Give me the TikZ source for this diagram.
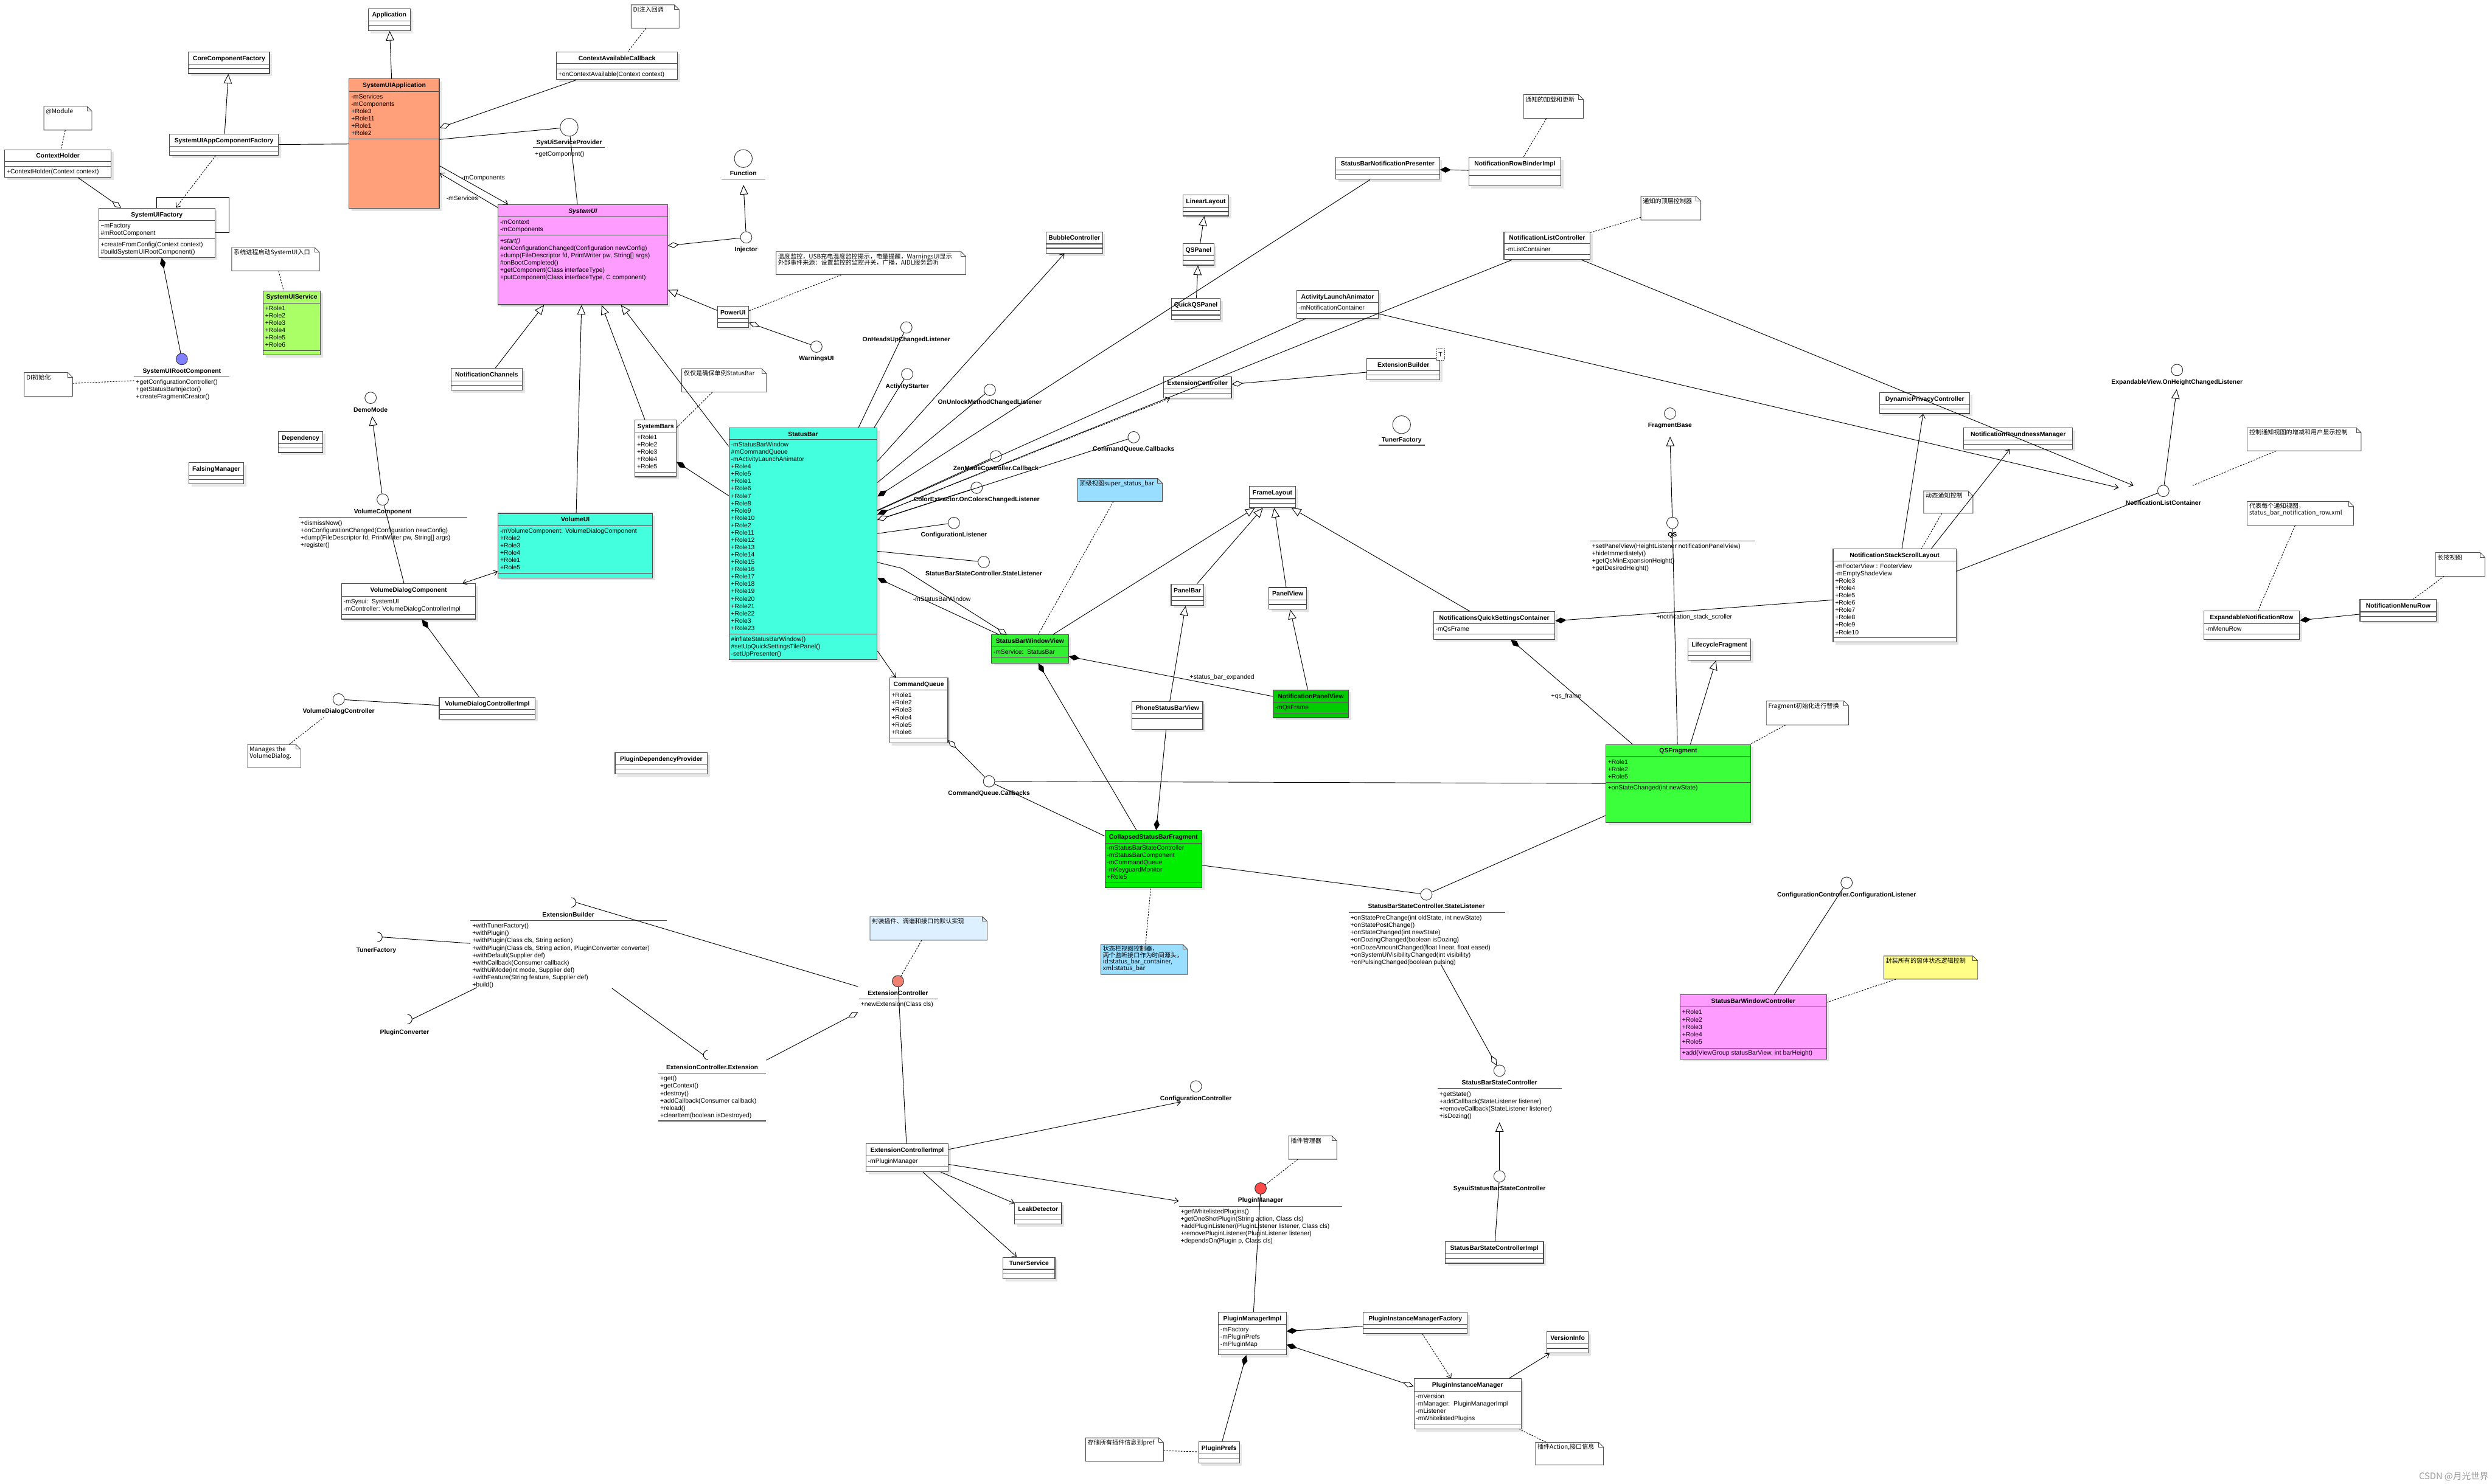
\documentclass[tikz,border=0pt]{standalone}
\usepackage{fontspec}
\setmainfont{Liberation Sans}
\newfontfamily\cjk{Noto Sans CJK SC}
\usetikzlibrary{arrows.meta,shadows}

\definecolor{salmonc}{HTML}{FFA07A}
\definecolor{pinkc}{HTML}{FF9CFF}
\definecolor{limec}{HTML}{AAFF66}
\definecolor{turq}{HTML}{44FFDD}
\definecolor{grn1}{HTML}{33EE33}
\definecolor{grn2}{HTML}{00EE00}
\definecolor{grn3}{HTML}{00CC00}
\definecolor{grn4}{HTML}{3CFF3C}
\definecolor{noteblue}{HTML}{99DDFF}
\definecolor{notepale}{HTML}{DDF0FF}
\definecolor{noteyel}{HTML}{FFFF88}
\definecolor{ifblue}{HTML}{8080FF}
\definecolor{ifsalmon}{HTML}{F08070}
\definecolor{ifred}{HTML}{FF4A4A}

\tikzset{
  clsbox/.style={draw=black!70, line width=1.2pt, inner sep=0pt,
    drop shadow={shadow xshift=1.6mm, shadow yshift=-1.6mm, fill=black!10, opacity=1}},
  sepline/.style={draw=black!70, line width=1.2pt},
  uline/.style={draw=black!70, line width=1.2pt},
  ttl/.style={anchor=base, inner sep=0pt, font=\fontsize{11.3}{13}\selectfont\bfseries},
  lbl/.style={anchor=base, inner sep=0pt, font=\fontsize{11.3}{13}\selectfont\bfseries},
  row/.style={anchor=base west, inner sep=0pt},
  nrow/.style={anchor=base west, inner sep=0pt, font=\cjk\fontsize{11}{13}\selectfont},
  elbl/.style={inner sep=0pt},
  ifc/.style={circle, draw=black!80, line width=1pt, fill=white, inner sep=0pt},
  notebox/.style={inner sep=0pt},
  noteline/.style={draw=black!70, line width=1pt},
  con/.style={line width=1pt},
  gen/.style={con, -{Triangle[length=6mm, width=5.2mm, fill=white]}},
  comp/.style={con, {Diamond[length=7mm, width=3.6mm]}-},
  aggr/.style={con, {Diamond[length=7mm, width=3.6mm, fill=white]}-},
  nav/.style={con, -{Straight Barb[length=2.4mm, width=3.6mm]}},
  dep/.style={nav, dash pattern=on 1mm off 0.8mm},
  anc/.style={con, dash pattern=on 1mm off 0.8mm},
}

% class box: name, x1, y1, x2, y2, fill, separators, title
\newcommand{\umlclass}[8]{%
  \node[clsbox, fill=#6, minimum width={(#4-#2)*1mm}, minimum height={(#5-#3)*1mm}]
    (#1) at ({(#2+#4)/2},{(#3+#5)/2}) {};
  \node[ttl] (#1-t) at ({(#2+#4)/2},{#3+5.3}) {#8};
  \foreach \sy in {#7} \draw[sepline] (#2,\sy) -- (#4,\sy);}
% note: name, x1, y1, x2, y2, fill
\newcommand{\umlnote}[6]{%
  \node[notebox, minimum width={(#4-#2)*1mm}, minimum height={(#5-#3)*1mm}]
    (#1) at ({(#2+#4)/2},{(#3+#5)/2}) {};
  \draw[noteline, fill=#6] (#2,#3) -- ({#4-3},#3) -- (#4,{#3+3}) -- (#4,#5) -- (#2,#5) -- cycle;
  \draw[noteline] ({#4-3},#3) -- ({#4-3},{#3+3}) -- (#4,{#3+3});}
% lollipop: name, x, y, radius, fill, label
\newcommand{\lolli}[6]{%
  \node[ifc, minimum size={2*#4*1mm}, fill=#5] (#1) at (#2,#3) {};
  \node[lbl] (#1-l) at (#2,{#3+#4+5.2}) {#6};}
% sockets: name, x, y, label x, label y, label
\newcommand{\sockR}[6]{%
  \draw[con] (#2,{#3-3}) arc[start angle=90, end angle=-90, radius=3mm];
  \coordinate (#1) at ({#2+3},#3);
  \node[lbl] (#1-l) at (#4,#5) {#6};}
\newcommand{\sockL}[6]{%
  \draw[con] (#2,{#3-3}) arc[start angle=90, end angle=270, radius=3mm];
  \coordinate (#1) at ({#2-3},#3);
  \node[lbl] (#1-l) at (#4,#5) {#6};}
% text rows
\newcommand{\rows}[4]{\foreach \rw [count=\i] in {#4} \node[row] (#1-\i) at (#2,{#3+(\i-1)*4.62}) {\rw};}
\newcommand{\nrows}[4]{\foreach \rw [count=\i] in {#4} \node[nrow] (#1-\i) at (#2,{#3+(\i-1)*4}) {\rw};}

\begin{document}
\begin{tikzpicture}[x=1mm, y=-1mm, font=\fontsize{11.3}{13}\selectfont]
\fill[white] (0,0) rectangle (1568,934);
\useasboundingbox (0,0) rectangle (1568,934);

% Application side
\umlclass{app}{231.7}{5.4}{258.1}{19.3}{white}{13.3,15.9}{Application}
\umlclass{sysapp}{219.7}{49.7}{276.4}{131.2}{salmonc}{57.6,87.4}{SystemUIApplication}
\rows{sysapp-a}{221}{62.2}{-mServices,-mComponents,+Role3,+Role11,+Role1,+Role2}
\umlclass{corefac}{118.6}{32.6}{169.6}{46.3}{white}{40.3,43.1}{CoreComponentFactory}
\umlclass{appfac}{106.6}{84.5}{175.2}{97.8}{white}{92,95}{SystemUIAppComponentFactory}
\umlclass{ctxholder}{3}{94.2}{69.9}{111.7}{white}{101.7,104.7}{ContextHolder}
\rows{ctxholder-o}{4.2}{109.3}{+ContextHolder(Context context)}
\umlclass{suifac}{62.1}{131}{135.2}{162}{white}{138.7,150.4}{SystemUIFactory}
\rows{suifac-a}{63.3}{143.4}{\textasciitilde mFactory,\#mRootComponent}
\rows{suifac-o}{63.3}{155.1}{+createFromConfig(Context context),\#buildSystemUIRootComponent()}
\draw[con] (suifac.north) -- ++(0,-6.4) -| ([xshift=8.8mm]suifac.east) -- (suifac.east);
\umlclass{suiservice}{165.6}{183}{201.6}{223.4}{limec}{190.8,220.8}{SystemUIService}
\rows{suiservice-a}{166.8}{195.3}{+Role1,+Role2,+Role3,+Role4,+Role5,+Role6}
\umlclass{dependency}{175.2}{271.5}{203.1}{284.8}{white}{279.2,281.9}{Dependency}
\umlclass{falsing}{118.9}{291.1}{153.3}{304.6}{white}{299,301.7}{FalsingManager}
\umlclass{notifch}{283.7}{231.9}{328.7}{245.6}{white}{239.8,242.5}{NotificationChannels}
\umlclass{sysui}{313.4}{128.8}{420}{191.8}{pinkc}{136.3,148.1}{\itshape SystemUI}
\rows{sysui-a}{314.6}{141}{-mContext,-mComponents}
\rows{sysui-o}{314.6}{152.8}{{\itshape +start()},\#onConfigurationChanged(Configuration newConfig),{+dump(FileDescriptor fd, PrintWriter pw, String[] args)},\#onBootCompleted(),+getComponent(Class interfaceType),{+putComponent(Class interfaceType, C component)}}
\umlclass{ctxcb}{350.1}{32.6}{426.3}{50.1}{white}{40.1,43.3}{ContextAvailableCallback}
\rows{ctxcb-o}{351.3}{48}{+onContextAvailable(Context context)}
\umlclass{powerui}{451.4}{192.8}{471}{206.3}{white}{200.4,203.1}{PowerUI}
\umlclass{systembars}{399.6}{264.3}{425.5}{300.1}{white}{271.9,297.3}{SystemBars}
\rows{systembars-a}{400.8}{276.4}{+Role1,+Role2,+Role3,+Role4,+Role5}
\umlclass{vollui}{313.4}{323.1}{410.7}{363.7}{turq}{330.9,360.9}{VolumeUI}
\rows{vollui-a}{314.6}{335.4}{-mVolumeComponent: VolumeDialogComponent,+Role2,+Role3,+Role4,+Role1,+Role5}
\umlclass{vdc}{214.9}{367.4}{299.3}{389.7}{white}{375.2,386.7}{VolumeDialogComponent}
\rows{vdc-a}{216.1}{380}{-mSysui:\ \ SystemUI,-mController: VolumeDialogControllerImpl}
\umlclass{vdci}{276.4}{439}{336.8}{452.5}{white}{446.7,449.6}{VolumeDialogControllerImpl}
\umlclass{plugdep}{387}{473.6}{445.1}{487.1}{white}{481.1,484}{PluginDependencyProvider}

% StatusBar group
\umlclass{statusbar}{458.7}{269.3}{551.9}{415.3}{turq}{276.6,399}{StatusBar}
\rows{statusbar-a}{459.9}{281.2}{-mStatusBarWindow,\#mCommandQueue,-mActivityLaunchAnimator,+Role4,+Role5,+Role1,+Role6,+Role7,+Role8,+Role9,+Role10,+Role2,+Role11,+Role12,+Role13,+Role14,+Role15,+Role16,+Role17,+Role18,+Role19,+Role20,+Role21,+Role22,+Role3,+Role23}
\rows{statusbar-o}{459.9}{403.8}{\#inflateStatusBarWindow(),\#setUpQuickSettingsTilePanel(),-setUpPresenter()}
\umlclass{bubble}{658.2}{145.9}{693.7}{159.4}{white}{153.5,156.2}{BubbleController}
\umlclass{linear}{744.4}{122.6}{773.1}{135.9}{white}{130.6,133.2}{LinearLayout}
\umlclass{qspanel}{744.4}{153.4}{763.8}{166.9}{white}{161.1,163.9}{QSPanel}
\umlclass{quickqs}{737.1}{187.8}{767.8}{201.3}{white}{195.5,198.3}{QuickQSPanel}
\umlclass{extctl}{732.1}{237.1}{774.8}{250.4}{white}{244.7,247.5}{ExtensionController}
\umlclass{cmdq}{559.7}{426.7}{596.4}{467.6}{white}{434.4,464.6}{CommandQueue}
\rows{cmdq-a}{560.9}{439}{+Role1,+Role2,+Role3,+Role4,+Role5,+Role6}
\umlclass{sbwv}{623.8}{399.6}{672.3}{417.3}{grn1}{407,413.7}{StatusBarWindowView}
\rows{sbwv-a}{625}{411.8}{-mService:\ \ StatusBar}
\umlclass{panelbar}{736.9}{367.6}{757.3}{381.2}{white}{375.2,378.1}{PanelBar}
\umlclass{psbv}{712.3}{441.6}{756.8}{459.1}{white}{449.1,452.3}{PhoneStatusBarView}
\umlclass{csbf}{695.2}{522.7}{756.2}{558.6}{grn2}{530.6,555.6}{CollapsedStatusBarFragment}
\rows{csbf-a}{696.4}{535}{-mStatusBarStateController,-mStatusBarComponent,-mCommandQueue,-mKeyguardMonitor,+Role5}
\umlclass{framelayout}{786.2}{306}{815.1}{319.5}{white}{313.9,316.7}{FrameLayout}
\umlclass{panelview}{798.5}{369.8}{822.1}{383.5}{white}{377.6,380.5}{PanelView}
\umlclass{npv}{801}{434.2}{848.5}{451.7}{grn3}{441.8,448.7}{NotificationPanelView}
\rows{npv-a}{802.2}{446.4}{-mQsFrame}
\umlclass{nqsc}{902}{384.9}{978.4}{402.4}{white}{392.5,399}{NotificationsQuickSettingsContainer}
\rows{nqsc-a}{903.2}{397.1}{-mQsFrame}
\umlclass{lifecycle}{1062.1}{402}{1101.6}{415.5}{white}{409.8,412.6}{LifecycleFragment}
\umlclass{qsf}{1010.4}{468.6}{1101.6}{517.9}{grn4}{476.1,492.6}{QSFragment}
\rows{qsf-a}{1011.6}{480.9}{+Role1,+Role2,+Role5}
\rows{qsf-o}{1011.6}{497.2}{+onStateChanged(int newState)}

% notifications
\umlclass{sbnp}{840.5}{99}{905.8}{112.9}{white}{106.9,109.8}{StatusBarNotificationPresenter}
\umlclass{nrbi}{924.2}{99}{982.2}{116.9}{white}{106.9,110.3}{NotificationRowBinderImpl}
\umlclass{nlctl}{946.3}{145.9}{1000.6}{163.4}{white}{153.4,160.2}{NotificationListController}
\rows{nlctl-a}{947.5}{158.1}{-mListContainer}
\umlclass{actanim}{815.8}{182.8}{867.4}{200.3}{white}{190.4,197.3}{ActivityLaunchAnimator}
\rows{actanim-a}{817}{195.1}{-mNotificationContainer}
\umlclass{extbuild}{860.1}{225.6}{906}{238.9}{white}{233.2,236}{ExtensionBuilder}
\node[draw=black!70, dash pattern=on 0.8mm off 0.5mm, fill=white, inner sep=0pt,
  minimum width=5mm, minimum height=7mm] (extbuild-T) at (906.3,223) {T};
\umlclass{dynpriv}{1182.8}{247}{1239.4}{260.3}{white}{254.7,257.5}{DynamicPrivacyController}
\umlclass{roundness}{1235.6}{269.3}{1304.2}{282.6}{white}{276.9,279.7}{NotificationRoundnessManager}
\umlclass{nssl}{1153.4}{345.4}{1230.8}{404}{white}{353.3,401.4}{NotificationStackScrollLayout}
\rows{nssl-a}{1154.6}{357.7}{-mFooterView : FooterView,-mEmptyShadeView,+Role3,+Role4,+Role5,+Role6,+Role7,+Role8,+Role9,+Role10}
\umlclass{enr}{1386.6}{384.7}{1446.9}{402.4}{white}{392.5,399}{ExpandableNotificationRow}
\rows{enr-a}{1387.8}{397.1}{-mMenuRow}
\umlclass{nmr}{1484.9}{377.4}{1533.1}{390.9}{white}{385.1,388}{NotificationMenuRow}
\umlclass{sbwc}{1057.1}{626.2}{1149.3}{666.5}{pinkc}{633.9,659.6}{StatusBarWindowController}
\rows{sbwc-a}{1058.3}{638.5}{+Role1,+Role2,+Role3,+Role4,+Role5}
\rows{sbwc-o}{1058.3}{664.1}{{+add(ViewGroup statusBarView, int barHeight)}}

% plugins
\umlclass{ecimpl}{544.9}{720}{596.7}{737.5}{white}{727.5,734.5}{ExtensionControllerImpl}
\rows{ecimpl-a}{546.1}{732.3}{-mPluginManager}
\umlclass{leak}{638.4}{756.9}{668}{770.5}{white}{764.5,767.3}{LeakDetector}
\umlclass{tunersvc}{631.1}{791.3}{663.8}{805}{white}{798.9,801.8}{TunerService}
\umlclass{pmi}{766.6}{825.9}{809.3}{852.7}{white}{833.5,849.8}{PluginManagerImpl}
\rows{pmi-a}{767.8}{838.2}{-mFactory,-mPluginPrefs,-mPluginMap}
\umlclass{pprefs}{754.2}{907.4}{779.9}{920.9}{white}{915,917.9}{PluginPrefs}
\umlclass{pimf}{857.8}{825.9}{923.2}{839.4}{white}{833.5,836.4}{PluginInstanceManagerFactory}
\umlclass{pim}{889.7}{867.8}{957.1}{899.4}{white}{875.6,896.4}{PluginInstanceManager}
\rows{pim-a}{890.9}{880.2}{-mVersion,-mManager:\ \ PluginManagerImpl,-mListener,-mWhitelistedPlugins}
\umlclass{versioninfo}{973.4}{838.2}{999.3}{851.7}{white}{845.8,848.7}{VersionInfo}
\umlclass{sbsci}{909.3}{781.6}{971.2}{795.1}{white}{789.2,792.1}{StatusBarStateControllerImpl}

% interfaces
\lolli{suirc}{114.4}{226}{3.6}{ifblue}{SystemUIRootComponent}
\draw[uline] (84.4,236.9) -- (144.5,236.9);
\rows{suirc-o}{85.5}{241.7}{+getConfigurationController(),+getStatusBarInjector(),+createFragmentCreator()}
\lolli{sysuisp}{358.1}{80.1}{5.6}{white}{SysUiServiceProvider}
\draw[uline] (335.5,93) -- (380.7,93);
\rows{sysuisp-o}{336.6}{98}{+getComponent()}
\lolli{demomode}{233.2}{250.4}{3.6}{white}{DemoMode}
\lolli{function}{467.7}{99.8}{5.6}{white}{Function}
\draw[uline] (453.9,112.9) -- (481.6,112.9);
\lolli{injector}{469.5}{149.4}{3.6}{white}{Injector}
\lolli{warnings}{513.7}{218.2}{3.6}{white}{WarningsUI}
\lolli{onheads}{570.3}{206.1}{3.6}{white}{OnHeadsUpChangedListener}
\lolli{actstarter}{570.8}{235.5}{3.6}{white}{ActivityStarter}
\lolli{onunlock}{622.8}{245.4}{3.6}{white}{OnUnlockMethodChangedListener}
\lolli{cqcb1}{713.3}{275.2}{3.6}{white}{CommandQueue.Callbacks}
\lolli{zen}{626.6}{287.2}{3.6}{white}{ZenModeController.Callback}
\lolli{colorext}{614.5}{307}{3.6}{white}{ColorExtractor.OnColorsChangedListener}
\lolli{conflis}{600.2}{329.1}{3.6}{white}{ConfigurationListener}
\lolli{sbsl1}{619}{353.7}{3.6}{white}{StatusBarStateController.StateListener}
\lolli{tunerfac}{881.9}{267.3}{5.6}{white}{TunerFactory}
\draw[uline] (867.6,280.2) -- (896.5,280.2);
\lolli{fragbase}{1050.8}{260.3}{3.6}{white}{FragmentBase}
\lolli{evlis}{1369.8}{232.9}{3.6}{white}{ExpandableView.OnHeightChangedListener}
\lolli{nlcont}{1361.2}{309}{3.6}{white}{NotificationListContainer}
\lolli{qs}{1052.3}{329.1}{3.6}{white}{QS}
\draw[uline] (1000.6,340.4) -- (1104.4,340.4);
\rows{qs-o}{1001.7}{345.2}{+setPanelView(HeightListener notificationPanelView),+hideImmediately(),+getQsMinExpansionHeight(),+getDesiredHeight()}
\lolli{volcomp}{240.8}{314.4}{3.6}{white}{VolumeComponent}
\draw[uline] (188,325.5) -- (294,325.5);
\rows{volcomp-o}{189.1}{330.5}{+dismissNow(),+onConfigurationChanged(Configuration newConfig),{+dump(FileDescriptor fd, PrintWriter pw, String[] args)},+register()}
\lolli{vdctl}{213.1}{440.2}{3.6}{white}{VolumeDialogController}
\lolli{cqcb2}{622.3}{491.8}{3.6}{white}{CommandQueue.Callbacks}
\lolli{sbsl2}{897.5}{563}{3.6}{white}{StatusBarStateController.StateListener}
\draw[uline] (848.5,574.5) -- (947,574.5);
\rows{sbsl2-o}{849.6}{579.1}{{+onStatePreChange(int oldState, int newState)},+onStatePostChange(),+onStateChanged(int newState),+onDozingChanged(boolean isDozing),{+onDozeAmountChanged(float linear, float eased)},+onSystemUiVisibilityChanged(int visibility),+onPulsingChanged(boolean pulsing)}
\lolli{confctllis}{1161.9}{555.6}{3.6}{white}{ConfigurationController.ConfigurationListener}
\lolli{ec}{565}{617.6}{3.6}{ifsalmon}{ExtensionController}
\draw[uline] (540.4,628.6) -- (590.1,628.6);
\rows{ec-o}{541.5}{633.4}{+newExtension(Class cls)}
\lolli{confctl}{752.5}{683.8}{3.6}{white}{ConfigurationController}
\lolli{pm}{793.2}{748}{3.6}{ifred}{PluginManager}
\draw[uline] (741.7,759.3) -- (844.5,759.3);
\rows{pm-o}{742.8}{763.9}{+getWhitelistedPlugins(),{+getOneShotPlugin(String action, Class cls)},{+addPluginListener(PluginListener listener, Class cls)},+removePluginListener(PluginListener listener),{+dependsOn(Plugin p, Class cls)}}
\lolli{sbsc}{943.5}{673.9}{3.6}{white}{StatusBarStateController}
\draw[uline] (904.6,685.2) -- (982.7,685.2);
\rows{sbsc-o}{905.7}{690}{+getState(),+addCallback(StateListener listener),+removeCallback(StateListener listener),+isDozing()}
\lolli{sysuisbsc}{943.5}{740.4}{3.6}{white}{SysuiStatusBarStateController}

% required interfaces
\sockR{ebsock}{359.4}{568}{357.6}{576.9}{ExtensionBuilder}
\draw[uline] (296,579.3) -- (419.7,579.3);
\rows{ebsock-o}{297.1}{584.1}{+withTunerFactory(),+withPlugin(),{+withPlugin(Class cls, String action)},{+withPlugin(Class cls, String action, PluginConverter converter)},+withDefault(Supplier def),+withCallback(Consumer callback),{+withUiMode(int mode, Supplier def)},{+withFeature(String feature, Supplier def)},+build()}
\sockR{tfsock}{237.5}{589.8}{236.7}{599.2}{TunerFactory}
\sockR{pcsock}{256.3}{641.5}{254.6}{651}{PluginConverter}
\sockL{extsock}{445.6}{664}{448.1}{673.1}{ExtensionController.Extension}
\draw[uline] (414.2,675.5) -- (482.1,675.5);
\rows{extsock-o}{415.3}{680.2}{+get(),+getContext(),+destroy(),+addCallback(Consumer callback),+reload(),+clearItem(boolean isDestroyed)}
\draw[uline] (414.2,705.5) -- (482.1,705.5);

% notes
\umlnote{nmodule}{27.6}{67}{57.8}{81.9}{white}
\nrows{nmodule-t}{28.8}{71.4}{@Module}
\umlnote{nsysentry}{145.8}{155.8}{201}{170.5}{white}
\nrows{nsysentry-t}{147}{160.2}{系统进程启动SystemUI入口}
\umlnote{ndiinit}{15.3}{234.5}{45.7}{249.4}{white}
\nrows{ndiinit-t}{16.5}{238.9}{DI初始化}
\umlnote{ndiinject}{397.1}{3}{427.3}{17.7}{white}
\nrows{ndiinject-t}{398.3}{7.4}{DI注入回调}
\umlnote{npower}{488.3}{158.4}{607.7}{172.9}{white}
\nrows{npower-t}{489.5}{162.8}{温度监控，USB充电温度监控提示，电量提醒，WarningsUI显示,外部事件来源：设置监控的监控开关，广播，AIDL服务监听}
\umlnote{nsingle}{429}{232.1}{482.3}{246.8}{white}
\nrows{nsingle-t}{430.2}{236.5}{仅仅是确保单例StatusBar}
\umlnote{nload}{958.6}{59.6}{996.3}{74.5}{white}
\nrows{nload-t}{959.8}{64}{通知的加载和更新}
\umlnote{ntop}{1032.5}{123.6}{1070.2}{138.5}{white}
\nrows{ntop-t}{1033.7}{128}{通知的顶层控制器}
\umlnote{nctrlview}{1414}{269.3}{1485.6}{283.8}{white}
\nrows{nctrlview-t}{1415.2}{273.7}{控制通知视图的增减和用户显示控制}
\umlnote{ndyn}{1210.4}{309}{1241.4}{323.1}{white}
\nrows{ndyn-t}{1211.6}{313.4}{动态通知控制}
\umlnote{nrow}{1414}{315.6}{1480.9}{330.7}{white}
\nrows{nrow-t}{1415.2}{320}{代表每个通知视图，,status\_bar\_notification\_row.xml}
\umlnote{nlong}{1532.4}{347.8}{1563.5}{362.7}{white}
\nrows{nlong-t}{1533.6}{352.2}{长按视图}
\umlnote{nsuper}{678.1}{301.1}{731.4}{315.6}{noteblue}
\nrows{nsuper-t}{679.3}{305.5}{顶级视图super\_status\_bar}
\umlnote{nfraginit}{1111.4}{441.2}{1163.2}{456.3}{white}
\nrows{nfraginit-t}{1112.6}{445.6}{Fragment初始化进行替换}
\umlnote{nvolume}{155.8}{468.6}{189.2}{483.3}{white}
\nrows{nvolume-t}{157}{473}{Manages the,VolumeDialog.}
\umlnote{ncsbf}{692.7}{594.4}{747.2}{613.3}{noteblue}
\nrows{ncsbf-t}{693.9}{598.6}{状态栏视图控制器，,两个监听接口作为时间源头，,{id:status\_bar\_container,},xml:status\_bar}
\umlnote{nextc}{547.4}{576.9}{621.1}{591.8}{notepale}
\nrows{nextc-t}{548.6}{581.3}{封装插件、调谐和接口的默认实现}
\umlnote{nwindow}{1185.3}{601.7}{1244.4}{616.3}{noteyel}
\nrows{nwindow-t}{1186.5}{606.1}{封装所有的窗体状态逻辑控制}
\umlnote{npm}{810.8}{715}{841.2}{729.7}{white}
\nrows{npm-t}{812}{719.4}{插件管理器}
\umlnote{nprefs}{683.1}{905}{732.1}{919.7}{white}
\nrows{nprefs-t}{684.3}{909.4}{存储所有插件信息到pref}
\umlnote{naction}{966.1}{907.8}{1008.9}{922.1}{white}
\nrows{naction-t}{967.3}{912.2}{{插件Action,接口信息}}

% free ends
\coordinate (function-in) at (467.8,116.4);
\coordinate (demomode-in) at (234.1,261.9);
\coordinate (fragbase-in) at (1050.8,274.8);
\coordinate (evlis-in) at (1369.6,245);
\coordinate (sbsc-in) at (943.5,706.4);
\coordinate (suirc-in) at (84.4,239.6);
\coordinate (nlcont-in1) at (1342.4,305.6);
\coordinate (nlcont-in2) at (1333.1,307);
\coordinate (nlcont-nt) at (1379.6,305.6);
\coordinate (vdctl-in) at (203.6,451.6);
\coordinate (sbsl2-out) at (906.6,607);
\coordinate (ec-in) at (539.9,621);
\coordinate (ec-agg) at (539.9,637.1);
\coordinate (eb-in1) at (296,593.8);
\coordinate (eb-in2) at (300,621.6);
\coordinate (eb-out) at (385,622);
\coordinate (ext-out) at (482.1,667.3);
\coordinate (pm-in) at (741.7,756);
\coordinate (bend1) at (567.5,357.7);

% generalization
\draw[gen] (sysapp) -- (app);
\draw[gen] (appfac) -- (corefac);
\draw[gen] (notifch) -- (sysui);
\draw[gen] (vollui) -- (sysui);
\draw[gen] (systembars) -- (sysui);
\draw[gen] (statusbar) -- (sysui);
\draw[gen] (powerui) -- (sysui);
\draw[gen] (injector) -- (function-in);
\draw[gen] (qspanel) -- (linear);
\draw[gen] (quickqs) -- (qspanel);
\draw[gen] (sbwv) -- (framelayout);
\draw[gen] (panelbar) -- (framelayout);
\draw[gen] (panelview) -- (framelayout);
\draw[gen] (nqsc) -- (framelayout);
\draw[gen] (psbv) -- (panelbar);
\draw[gen] (npv) -- (panelview);
\draw[gen] (qsf) -- (lifecycle);
\draw[gen] (qs) -- (fragbase-in);
\draw[gen] (nlcont) -- (evlis-in);
\draw[gen] (volcomp) -- (demomode-in);
\draw[gen] (sysuisbsc) -- (sbsc-in);

% association
\draw[con] (appfac) -- (sysapp);
\draw[con] (sysuisp) -- (sysapp);
\draw[con] (sysuisp) -- (sysui);
\draw[con] (qsf) -- (cqcb2);
\draw[con] (cqcb2) -- (csbf);
\draw[con] (qsf) -- (qs);
\draw[con] (csbf) -- (sbsl2);
\draw[con] (qsf) -- (sbsl2);
\draw[con] (pmi) -- (pm);
\draw[con] (sbsci) -- (sysuisbsc);
\draw[con] (ec) -- (ecimpl);
\draw[con] (confctllis) -- (sbwc);
\draw[con] (vdctl) -- (vdci);
\draw[con] (volcomp) -- (vdc);
\draw[con] (onheads) -- (statusbar);
\draw[con] (actstarter) -- (statusbar);
\draw[con] (onunlock) -- (statusbar);
\draw[con] (cqcb1) -- (statusbar);
\draw[con] (zen) -- (statusbar);
\draw[con] (conflis) -- (statusbar);
\draw[con] (sbsl1) -- (statusbar);
\draw[con] (actanim) -- (statusbar);
\draw[con] (nssl) -- (nlcont);
\draw[con] (tfsock) -- (eb-in1);
\draw[con] (pcsock) -- (eb-in2);
\draw[con] (ebsock) -- (ec-in);
\draw[con] (eb-out) -- (extsock);

% navigable
\draw[nav] (statusbar) -- (bubble);
\draw[nav] (statusbar) -- (cmdq);
\draw[nav] (ecimpl) -- (confctl-l);
\draw[nav] (ecimpl) -- (leak);
\draw[nav] (ecimpl) -- (tunersvc);
\draw[nav] (ecimpl) -- (pm-in);
\draw[nav] (pim) -- (versioninfo);
\draw[nav] (nssl) -- (dynpriv);
\draw[nav] (nssl) -- (roundness);
\draw[nav] (nlctl) -- (nlcont-in1);
\draw[nav] (actanim) -- (nlcont-in2);
\draw[nav] (sysapp.-26) -- (sysui.146.5);
\draw[nav] (sysui.151.7) -- (sysapp.-33.6);
\draw[con, {Straight Barb[length=2.4mm, width=3.6mm]}-{Straight Barb[length=2.4mm, width=3.6mm]}] (vollui) -- (vdc);
\node[elbl] (lab-comp) at (304.1,112.3) {-mComponents};
\node[elbl] (lab-serv) at (290.8,124.8) {-mServices};

% dependency
\draw[dep] (appfac) -- (suifac);
\draw[dep] (statusbar) -- (extctl);
\draw[dep] (pimf) -- (pim);

% aggregation
\draw[aggr] (sysapp) -- (ctxcb);
\draw[aggr] (suifac) -- (ctxholder);
\draw[aggr] (sysui) -- (injector);
\draw[aggr] (powerui) -- (warnings);
\draw[aggr] (extctl) -- (extbuild);
\draw[aggr] (cmdq) -- (cqcb2);
\draw[aggr] (sbwv.148) -- (bend1) -- (statusbar.-14.4);
\draw[aggr] (sbsc) -- (sbsl2-out);
\draw[aggr] (ec-agg) -- (ext-out);
\draw[aggr] (statusbar) -- (colorext);

% composition
\draw[comp] (suifac) -- (suirc);
\draw[comp] (systembars) -- (statusbar);
\draw[comp] (statusbar) -- (sbwv);
\draw[comp] (statusbar) -- (sbnp);
\draw[comp] (statusbar) -- (nlctl);
\draw[comp] (sbwv) -- (npv);
\draw[comp] (sbwv) -- (csbf);
\draw[comp] (csbf) -- (psbv);
\draw[comp] (nqsc) -- (nssl);
\draw[comp] (nqsc) -- (qsf);
\draw[comp] (sbnp) -- (nrbi);
\draw[comp] (enr) -- (nmr);
\draw[comp] (vdc) -- (vdci);
\draw[comp] (pmi) -- (pprefs);
\draw[comp] (pmi) -- (pimf);
\draw[con, {Diamond[length=7mm, width=3.6mm]}-{Diamond[length=7mm, width=3.6mm, fill=white]}] (pmi) -- (pim);
\node[elbl] (lab-sbw) at (592.6,376.8) {-mStatusBarWindow};
\node[elbl, anchor=west] (lab-exp) at (748.6,426.5) {+status\_bar\_expanded};
\node[elbl] (lab-nss) at (1066,388.5) {+notification\_stack\_scroller};
\node[elbl] (lab-qsf) at (985.5,438.4) {+qs\_frame};

% note links
\draw[anc] (nmodule) -- (ctxholder);
\draw[anc] (nsysentry) -- (suiservice);
\draw[anc] (ndiinit) -- (suirc-in);
\draw[anc] (ndiinject) -- (ctxcb);
\draw[anc] (npower) -- (powerui);
\draw[anc] (nsingle) -- (systembars);
\draw[anc] (nload) -- (nrbi);
\draw[anc] (ntop) -- (nlctl);
\draw[anc] (nctrlview) -- (nlcont-nt);
\draw[anc] (ndyn) -- (nssl);
\draw[anc] (nrow) -- (enr);
\draw[anc] (nlong) -- (nmr);
\draw[anc] (nsuper) -- (sbwv);
\draw[anc] (nfraginit) -- (qsf);
\draw[anc] (nvolume) -- (vdctl-in);
\draw[anc] (ncsbf) -- (csbf);
\draw[anc] (nextc) -- (ec);
\draw[anc] (nwindow) -- (sbwc);
\draw[anc] (npm) -- (pm);
\draw[anc] (nprefs) -- (pprefs);
\draw[anc] (naction) -- (pim);

\node[anchor=base east, inner sep=0pt, text=black!40, font=\cjk\fontsize{16}{18}\selectfont] (wmark) at (1566,931) {CSDN @月光世界};
\end{tikzpicture}
\end{document}
